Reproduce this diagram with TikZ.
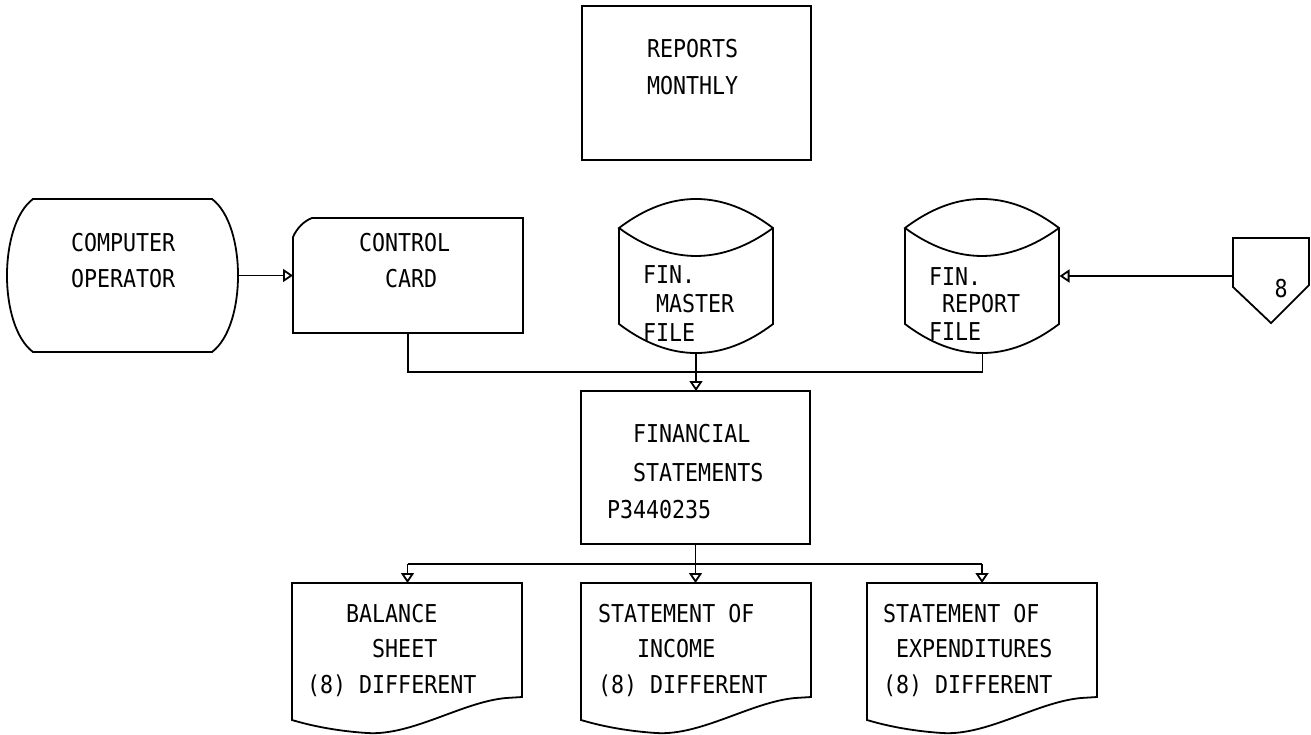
\documentclass[tikz,border=0pt]{standalone}
\usepackage{fontspec}
\newfontfamily\plotfont{DejaVu Sans Mono}[FakeStretch=0.88]
\usetikzlibrary{arrows.meta}
\begin{document}
\begin{tikzpicture}[x=0.5pt,y=-0.5pt,
  line width=0.9pt,
  shp/.style={draw=none,inner sep=0pt,outer sep=0pt},
  boxed/.style={draw,inner sep=0pt,outer sep=0pt},
  txt/.style={inner sep=0pt,outer sep=0pt,anchor=base west,font=\plotfont\fontsize{12.3}{14}\selectfont},
  arr/.style={-{Triangle[open,length=5pt,width=6.5pt]}},
  docshape/.pic={\draw (0,0) -- (230,0) -- (230,114) -- (214,115)
      .. controls (170,119) and (120,153) .. (75,150)
      .. controls (45,148) and (20,143) .. (0,137) -- cycle;},
  cylshape/.pic={\draw (0,29) -- (0,125) .. controls (51,163.7) and (103,163.7) .. (154,125) -- (154,29)
      .. controls (103,-9.7) and (51,-9.7) .. (0,29) .. controls (51,66.3) and (103,66.3) .. (154,29);}
]
\useasboundingbox (0,0) rectangle (1311,734);
\fill[white] (0,0) rectangle (1311,734);

% ---- shapes (anchor nodes) ----
\node[boxed,minimum width=114.5pt,minimum height=77pt] (reports) at (696.5,83) {};
\node[shp,minimum width=115pt,minimum height=76.5pt] (op) at (122,275.5) {};
\node[shp,minimum width=115pt,minimum height=57.5pt] (card) at (408,275.5) {};
\node[shp,minimum width=77pt,minimum height=77pt] (mas) at (696,276) {};
\node[shp,minimum width=77pt,minimum height=77pt] (rep) at (982.5,276) {};
\node[shp,minimum width=38pt,minimum height=42.5pt] (off) at (1271,280.5) {};
\node[boxed,minimum width=114.5pt,minimum height=76.5pt] (fin) at (695.5,467.5) {};
\node[shp,minimum width=115.5pt,minimum height=75pt] (bal) at (407.5,658) {};
\node[shp,minimum width=114.5pt,minimum height=75pt] (inc) at (695.5,658) {};
\node[shp,minimum width=115pt,minimum height=75pt] (exp) at (982,658) {};

% outlines
\draw (33,199) -- (212,199) .. controls (246.7,225) and (246.7,326) .. (212,352)
      -- (33,352) .. controls (-1.7,326) and (-1.7,225) .. (33,199) -- cycle;
\draw (293,333) -- (293,237) .. controls (297,228) and (304,221) .. (312,218)
      -- (523,218) -- (523,333) -- cycle;
\pic at (619,199) {cylshape};
\pic at (905,199) {cylshape};
\draw (1233,238) -- (1309,238) -- (1309,285) -- (1271,323) -- (1233,287) -- cycle;
\pic at (292,583) {docshape};
\pic at (581,583) {docshape};
\pic at (867,583) {docshape};

% ---- texts ----
\node[txt] (t1) at (647,57) {REPORTS};
\node[txt] (t2) at (647,94) {MONTHLY};
\node[txt] (t3) at (71,251) {COMPUTER};
\node[txt] (t4) at (71,287) {OPERATOR};
\node[txt] (t5) at (359,251) {CONTROL};
\node[txt] (t6) at (359,287) {\hphantom{XX}CARD};
\node[txt] (t7) at (643,283) {FIN.};
\node[txt] (t8) at (643,312) {\hphantom{X}MASTER};
\node[txt] (t9) at (643,341) {FILE};
\node[txt] (t10) at (929,285) {FIN.};
\node[txt] (t11) at (929,312) {\hphantom{X}REPORT};
\node[txt] (t12) at (929,340) {FILE};
\node[txt,anchor=center] (t13) at (1281,289) {8};
\node[txt] (t14) at (607,442) {\hphantom{XX}FINANCIAL};
\node[txt] (t15) at (607,481) {\hphantom{XX}STATEMENTS};
\node[txt] (t16) at (607,518) {P3440235};
\node[txt] (t17) at (307,622) {\hphantom{XXX}BALANCE};
\node[txt] (t18) at (307,657) {\hphantom{XXXXX}SHEET};
\node[txt] (t19) at (307,693) {(8) DIFFERENT};
\node[txt] (t20) at (598,622) {STATEMENT OF};
\node[txt] (t21) at (598,657) {\hphantom{XXX}INCOME};
\node[txt] (t22) at (598,693) {(8) DIFFERENT};
\node[txt] (t23) at (883,622) {STATEMENT OF};
\node[txt] (t24) at (883,657) {\hphantom{X}EXPENDITURES};
\node[txt] (t25) at (883,693) {(8) DIFFERENT};

% ---- connectors ----
\coordinate (busA) at (0,372);
\coordinate (busB) at (0,564);
\draw[arr] (op.east) -- (card.west);
\draw[arr] (off.west |- rep.east) -- (rep.east);
\draw (card.south) |- (busA -| rep.south) -- (rep.south);
\draw[arr] (mas.south) -- (mas.south |- fin.north);
\draw (bal.north |- busB) -- (exp.north |- busB);
\draw[arr] (fin.south) -- (inc.north);
\draw[arr] (bal.north |- busB) -- (bal.north);
\draw[arr] (exp.north |- busB) -- (exp.north);
\end{tikzpicture}
\end{document}
